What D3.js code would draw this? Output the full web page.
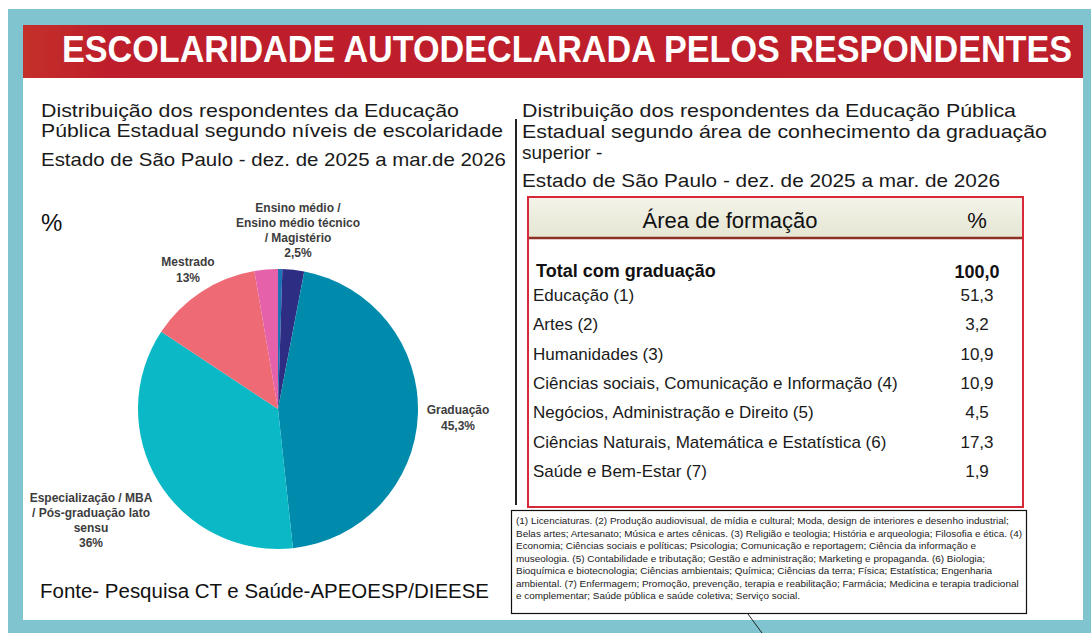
<!DOCTYPE html>
<html>
<head>
<meta charset="utf-8">
<script src="https://cdn.jsdelivr.net/npm/d3@7"></script>
<style>
  body { margin: 0; background: #fff; }
  svg { display: block; font-family: 'Liberation Sans', Arial, sans-serif; }
</style>
</head>
<body>
<svg id="chart" width="1091" height="633"></svg>
<script>
// Pie: níveis de escolaridade (clockwise from 12 o'clock)
const pieLabels = ['', 'Ensino médio / Ensino médio técnico / Magistério', 'Graduação',
  'Especialização / MBA / Pós-graduação lato sensu', 'Mestrado', ''];
const pieValues = [0.5, 2.5, 45.3, 36, 13, 2.7];
const pieValueText = ['', '2,5%', '45,3%', '36%', '13%', ''];
const pieColors = ['#1b74b8', '#2d2e83', '#008aab', '#0bb8c6', '#ee6b76', '#e561a9'];
// label lines as they wrap in the picture
const pieLabelLines = [[], ['Ensino médio /', 'Ensino médio técnico', '/ Magistério'], ['Graduação'],
  ['Especialização / MBA', '/ Pós-graduação lato', 'sensu'], ['Mestrado'], []];

// Table: área de formação
const areaTotalLabel = 'Total com graduação';
const areaTotalValue = '100,0';
const areaNames = ['Educação (1)', 'Artes (2)', 'Humanidades (3)',
  'Ciências sociais, Comunicação e Informação (4)', 'Negócios, Administração e Direito (5)',
  'Ciências Naturais, Matemática e Estatística (6)', 'Saúde e Bem-Estar (7)'];
const areaValues = [51.3, 3.2, 10.9, 10.9, 4.5, 17.3, 1.9];

const footnoteLines = [
  '(1) Licenciaturas. (2) Produção audiovisual, de mídia e cultural; Moda, design de interiores e desenho industrial;',
  'Belas artes; Artesanato; Música e artes cênicas. (3) Religião e teologia; História e arqueologia; Filosofia e ética. (4)',
  'Economia; Ciências sociais e políticas; Psicologia; Comunicação e reportagem; Ciência da informação e',
  'museologia. (5) Contabilidade e tributação; Gestão e administração; Marketing e propaganda. (6) Biologia;',
  'Bioquímica e biotecnologia; Ciências ambientais; Química; Ciências da terra; Física; Estatística; Engenharia',
  'ambiental. (7) Enfermagem; Promoção, prevenção, terapia e reabilitação; Farmácia; Medicina e terapia tradicional',
  'e complementar; Saúde pública e saúde coletiva; Serviço social.'
];

const svg = d3.select('#chart');
const fmt = v => d3.format('.1f')(v).replace('.', ',');

// frame
svg.append('rect').attr('x', 8).attr('y', 9).attr('width', 1083).attr('height', 624).attr('fill', '#80c4cf');
svg.append('rect').attr('x', 23).attr('y', 25).attr('width', 1060).attr('height', 595).attr('fill', '#fff');

// header band
const hdrGrad = svg.append('defs').append('linearGradient').attr('id', 'hdr')
  .attr('x1', 0).attr('x2', 1).attr('y1', 0).attr('y2', 0);
hdrGrad.append('stop').attr('offset', '0').attr('stop-color', '#c4302a');
hdrGrad.append('stop').attr('offset', '0.08').attr('stop-color', '#be1e2b');
hdrGrad.append('stop').attr('offset', '1').attr('stop-color', '#bd1f2b');
svg.append('rect').attr('x', 23).attr('y', 25).attr('width', 1060).attr('height', 53).attr('fill', 'url(#hdr)');
svg.append('text').attr('transform', 'translate(62,62) scale(1,1.1)')
  .attr('font-size', 34).attr('font-weight', 'bold').attr('fill', '#fff')
  .attr('textLength', 1010).attr('lengthAdjust', 'spacingAndGlyphs')
  .text('ESCOLARIDADE AUTODECLARADA PELOS RESPONDENTES');

// subtitles
function line(x, y, txt, w, size) {
  const t = svg.append('text').attr('x', x).attr('y', y).attr('font-size', size || 19).attr('fill', '#1a1a1a').text(txt);
  if (w) t.attr('textLength', w).attr('lengthAdjust', 'spacingAndGlyphs');
  return t;
}
line(41, 117, 'Distribuição dos respondentes da Educação', 418);
line(41, 137, 'Pública Estadual segundo níveis de escolaridade', 462);
line(41, 166, 'Estado de São Paulo - dez. de 2025 a mar.de 2026', 465);
line(522, 117, 'Distribuição dos respondentes da Educação Pública', 494);
line(522, 138, 'Estadual segundo área de conhecimento da graduação', 525);
line(522, 159, 'superior -');
line(522, 187, 'Estado de São Paulo - dez. de 2025 a mar. de 2026', 478);

// divider
svg.append('line').attr('x1', 516).attr('x2', 516).attr('y1', 119).attr('y2', 505)
  .attr('stroke', '#222').attr('stroke-width', 2);

// pie
svg.append('text').attr('x', 41).attr('y', 231).attr('font-size', 24).attr('fill', '#111').text('%');
const cx = 278, cy = 409, r = 140;
const pie = d3.pie().sort(null).value(d => d)(pieValues);
const arc = d3.arc().innerRadius(0).outerRadius(r);
const gPie = svg.append('g').attr('transform', `translate(${cx},${cy})`);
gPie.selectAll('path').data(pie).join('path')
  .attr('d', arc).attr('fill', (d, i) => pieColors[i]);

const labelPos = [null, [298, 212], [458, 414], [91, 502], [188, 266], null];
const labelG = svg.append('g').attr('font-size', 12).attr('font-weight', 'bold')
  .attr('fill', '#3d3d3d').attr('text-anchor', 'middle');
pieLabelLines.forEach((lines, i) => {
  if (!labelPos[i]) return;
  const [lx, ly] = labelPos[i];
  const all = lines.concat([pieValueText[i]]);
  const step = lines.length > 1 ? 15 : 16;
  all.forEach((s, k) => labelG.append('text').attr('x', lx).attr('y', ly + k * step).text(s));
});

line(40, 598, 'Fonte- Pesquisa CT e Saúde-APEOESP/DIEESE', 449, 20).attr('fill', '#111');

// table
const tx = 528, ty = 197, tw = 495, th = 310;
const thGrad = svg.select('defs').append('linearGradient').attr('id', 'thg')
  .attr('x1', 0).attr('x2', 0).attr('y1', 0).attr('y2', 1);
thGrad.append('stop').attr('offset', '0').attr('stop-color', '#f3f3e9');
thGrad.append('stop').attr('offset', '1').attr('stop-color', '#e6e6d4');
svg.append('rect').attr('x', tx).attr('y', ty).attr('width', tw).attr('height', 41).attr('fill', 'url(#thg)');
svg.append('line').attr('x1', tx).attr('x2', tx + tw).attr('y1', 238).attr('y2', 238)
  .attr('stroke', '#8e2f25').attr('stroke-width', 2.5);
svg.append('rect').attr('x', tx).attr('y', ty).attr('width', tw).attr('height', th)
  .attr('fill', 'none').attr('stroke', '#d8283a').attr('stroke-width', 2);
svg.append('text').attr('x', 730).attr('y', 228).attr('font-size', 22).attr('text-anchor', 'middle')
  .attr('fill', '#111').text('Área de formação');
svg.append('text').attr('x', 977).attr('y', 228).attr('font-size', 22).attr('text-anchor', 'middle')
  .attr('fill', '#111').text('%');

svg.append('text').attr('x', 536).attr('y', 277).attr('font-size', 18).attr('font-weight', 'bold')
  .attr('fill', '#111').text(areaTotalLabel);
svg.append('text').attr('x', 977).attr('y', 278).attr('font-size', 18).attr('font-weight', 'bold')
  .attr('text-anchor', 'middle').attr('fill', '#111').text(areaTotalValue);

const yRow = d3.scalePoint().domain(areaNames).range([301, 477]);
const rows = svg.append('g').attr('font-size', 17).attr('fill', '#1a1a1a');
rows.selectAll('text.name').data(areaNames).join('text').attr('class', 'name')
  .attr('x', 533).attr('y', d => yRow(d)).text(d => d);
rows.selectAll('text.val').data(areaNames).join('text').attr('class', 'val')
  .attr('x', 977).attr('y', d => yRow(d)).attr('text-anchor', 'middle')
  .text((d, i) => fmt(areaValues[i]));

// footnote box
svg.append('rect').attr('x', 511.5).attr('y', 510.5).attr('width', 515).attr('height', 103)
  .attr('fill', '#fff').attr('stroke', '#111').attr('stroke-width', 1.2);
const fn = svg.append('g').attr('fill', '#222');
const probe = fn.append('text').attr('font-size', 10).text(footnoteLines[1]);
const fs = 10 * 507 / probe.node().getComputedTextLength();
probe.remove();
fn.selectAll('text').data(footnoteLines).join('text')
  .attr('x', 516).attr('y', (d, i) => 524 + i * 12.5)
  .attr('font-size', fs).text(d => d);

svg.append('line').attr('x1', 748).attr('y1', 614).attr('x2', 762).attr('y2', 633)
  .attr('stroke', '#222').attr('stroke-width', 1);
</script>
</body>
</html>
